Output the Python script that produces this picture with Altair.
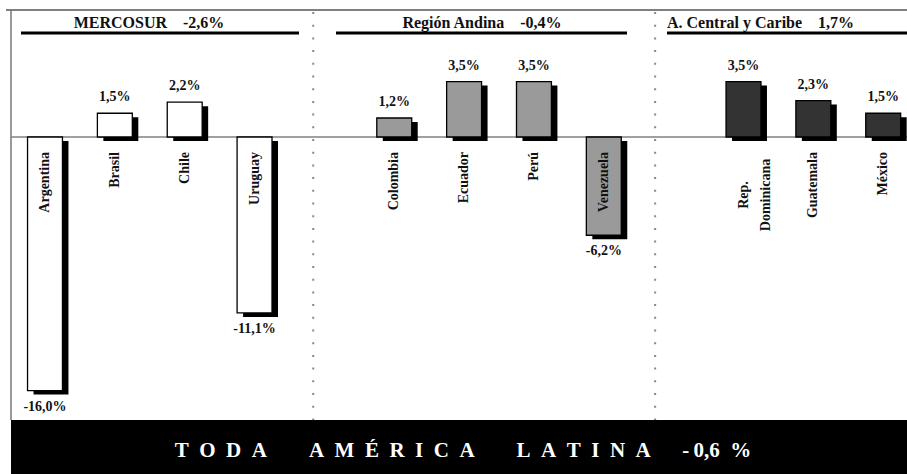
import altair as alt
import pandas as pd

# Real GDP growth by country, grouped by sub-region
countries = ["Argentina", "Brasil", "Chile", "Uruguay",
             "Colombia", "Ecuador", "Perú", "Venezuela",
             "Rep.\nDominicana", "Guatemala", "México"]
growth = [-16.0, 1.5, 2.2, -11.1, 1.2, 3.5, 3.5, -6.2, 3.5, 2.3, 1.5]
region_index = [0, 0, 0, 0, 1, 1, 1, 1, 2, 2, 2]

regions = ["MERCOSUR", "Región Andina", "A. Central y Caribe"]
region_growth = [-2.6, -0.4, 1.7]

total_name = "TODA AMÉRICA LATINA"
total_growth = -0.6

FONT = "Liberation Serif"
W, H = 907, 474


def pct(v):
    return f"{v:.1f}".replace(".", ",") + "%"


# one slot per bar, with an empty slot between sub-regions
rows = []
pos_in_region = {}
for name, v, r in zip(countries, growth, region_index):
    j = pos_in_region.get(r, 0)
    pos_in_region[r] = j + 1
    slot = r * 5 + j
    rows.append({
        "country": name,
        "value": v,
        "region": regions[r],
        "slot": slot,
        "x0": slot - 0.25,
        "x1": slot + 0.25,
        "zero": 0.0,
        "label": pct(v),
        "multi": "\n" in name,
    })
df = pd.DataFrame(rows)

pitch = 69.85
xscale = alt.Scale(domain=[-45 / pitch, (W - 45) / pitch], nice=False, zero=False)
yscale = alt.Scale(domain=[-(H - 137) / 15.85, 137 / 15.85], nice=False, zero=False)

fills = ["#ffffff", "#9a9a9a", "#333333"]
color = alt.Color("region:N", scale=alt.Scale(domain=regions, range=fills), legend=None)

base = alt.Chart(df)

# frame, zero line and dotted separators
one = pd.DataFrame({"zero": [0.0]})
frame_top = alt.Chart(one).mark_rule(color="#555555", strokeWidth=1.5).encode(
    x=alt.value(6), x2=alt.value(W), y=alt.value(10))
frame_left = alt.Chart(one).mark_rule(color="#777777", strokeWidth=1.5).encode(
    x=alt.value(11), y=alt.value(10), y2=alt.value(420))
zero_line = alt.Chart(one).mark_rule(color="#808080", strokeWidth=1.5).encode(
    x=alt.value(11), x2=alt.value(W), y=alt.Y("zero:Q", scale=yscale, axis=None))

separator_slots = [3.84, 8.735]
separators = alt.Chart(pd.DataFrame({"s": separator_slots})).mark_rule(
    color="#888888", strokeWidth=2, strokeDash=[2, 10.7]
).encode(x=alt.X("s:Q", scale=xscale, axis=None), y=alt.value(12), y2=alt.value(420))

# bars with a drop shadow
shadow = base.mark_rect(color="black", xOffset=6, x2Offset=6, yOffset=4, y2Offset=4).encode(
    x=alt.X("x0:Q", scale=xscale, axis=None), x2="x1:Q",
    y=alt.Y("value:Q", scale=yscale, axis=None), y2="zero:Q")
bars = base.mark_rect(stroke="black", strokeWidth=1.3).encode(
    x=alt.X("x0:Q", scale=xscale, axis=None), x2="x1:Q",
    y=alt.Y("value:Q", scale=yscale, axis=None), y2="zero:Q",
    fill=color)

label_style = dict(font=FONT, fontWeight="bold", fontSize=14, color="#111111")
pos_labels = base.transform_filter("datum.value >= 0").mark_text(
    baseline="alphabetic", dy=-12, **label_style).encode(
    x=alt.X("slot:Q", scale=xscale), y=alt.Y("value:Q", scale=yscale), text="label:N")
neg_labels = base.transform_filter("datum.value < 0").mark_text(
    baseline="alphabetic", dy=20, **label_style).encode(
    x=alt.X("slot:Q", scale=xscale), y=alt.Y("value:Q", scale=yscale), text="label:N")

# country names, rotated, hanging just below the zero line
names = base.transform_filter("!datum.multi").mark_text(
    angle=270, align="right", baseline="middle", dx=-15, **label_style).encode(
    x=alt.X("slot:Q", scale=xscale), y=alt.Y("zero:Q", scale=yscale), text="country:N")
names_multi = base.transform_filter("datum.multi").mark_text(
    angle=270, align="center", baseline="middle", dx=-58, lineBreak="\n",
    lineHeight=22, **label_style).encode(
    x=alt.X("slot:Q", scale=xscale), y=alt.Y("zero:Q", scale=yscale), text="country:N")

# sub-region headings with their underline
heads = pd.DataFrame({
    "title": [f"{r}\u2002\u2002{pct(g)}" for r, g in zip(regions, region_growth)],
    "x": [149, 482, 667],
    "align": ["center", "center", "left"],
})
head_layers = []
for _, h in heads.iterrows():
    head_layers.append(
        alt.Chart(pd.DataFrame({"t": [h["title"]]})).mark_text(
            font=FONT, fontWeight="bold", fontSize=16, color="#111111",
            align=h["align"], baseline="alphabetic"
        ).encode(x=alt.value(h["x"]), y=alt.value(28), text="t:N"))

underline_spans = [(21, 299), (336, 627), (667, 960)]
underlines = [
    alt.Chart(one).mark_rule(color="black", strokeWidth=3).encode(
        x=alt.value(a), x2=alt.value(b), y=alt.value(33))
    for a, b in underline_spans
]

# bottom banner with the regional total
banner = alt.Chart(one).mark_rect(color="black").encode(
    x=alt.value(11), x2=alt.value(W), y=alt.value(420), y2=alt.value(H))
tv = pct(total_growth)
banner_text = ("\u2003\u2003".join("\u2002".join(w) for w in total_name.split())
               + "\u2003\u2002" + tv[0] + "\u2009" + tv[1:-1] + "\u2002" + tv[-1])
banner_label = alt.Chart(pd.DataFrame({"t": [banner_text]})).mark_text(
    font=FONT, fontWeight="bold", fontSize=21, color="white",
    align="center", baseline="alphabetic"
).encode(x=alt.value(463), y=alt.value(457), text="t:N")

chart = alt.layer(
    frame_top, frame_left, separators, zero_line,
    shadow, bars, pos_labels, neg_labels, names, names_multi,
    *head_layers, *underlines, banner, banner_label,
).properties(
    width=W, height=H, padding=0, autosize=alt.AutoSizeParams(type="none"),
    background="white",
).configure_view(stroke=None)

chart.save("out.html", embed_options={"renderer": "svg", "actions": False})
